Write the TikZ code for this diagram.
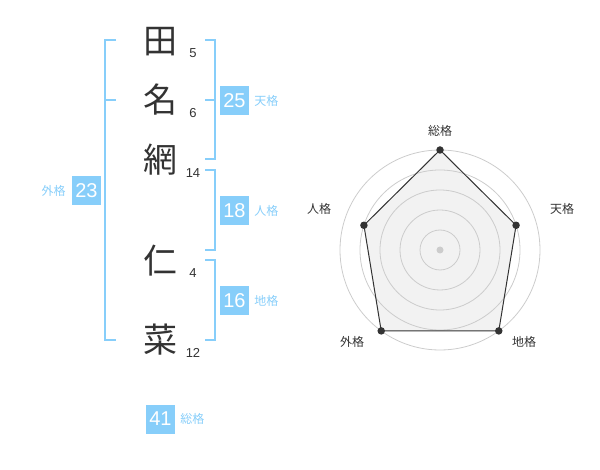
\documentclass[tikz,border=0pt]{standalone}
\usepackage{fontspec}
\setmainfont{Liberation Sans}
\newfontfamily\jpfont{Noto Sans CJK JP}
\usetikzlibrary{positioning}
\definecolor{kakublue}{HTML}{87CEFA}
\definecolor{inkgray}{HTML}{333333}
\definecolor{ringgray}{HTML}{CCCCCC}
\definecolor{areagray}{HTML}{F2F2F2}
\tikzset{
	kanji/.style={
		font=\jpfont\fontsize{34}{34}\selectfont,
		text=inkgray,
		inner sep=0pt},
	kakusu/.style={font=\fontsize{13}{13}\selectfont, text=inkgray, inner sep=0pt},
	bracket/.style={draw=kakublue, line width=2pt},
	kakubox/.style={
		fill=kakublue,
		text=white,
		minimum size=29pt,
		inner sep=0pt,
		font=\fontsize{20}{20}\selectfont},
	kakuname/.style={text=kakublue, inner sep=0pt, font=\jpfont\fontsize{12}{12}\selectfont},
	ring/.style={draw=ringgray, line width=0.8pt},
	radarlabel/.style={text=inkgray, inner sep=0pt, font=\jpfont\fontsize{12}{12}\selectfont},
	vertex/.style={circle, fill=inkgray, inner sep=0pt, minimum size=7.5pt},
}

\begin{document}
\begin{tikzpicture}
		[x=1pt, y=-1pt, node distance=5pt]
		\useasboundingbox (0,0) rectangle (600,470);
		% name
		\node[kanji] (ta)  at (160,42)  {田};
		\node[kanji] (na)  at (160,100) {名};
		\node[kanji] (ami) at (160,160) {網};
		\node[kanji] (ni)  at (160,261) {仁};
		\node[kanji] (sai) at (160,340) {菜};
		\node[kakusu] (s-ta)  at (193,53)  {5};
		\node[kakusu] (s-na)  at (193,113) {6};
		\node[kakusu] (s-ami) at (193,173) {14};
		\node[kakusu] (s-ni)  at (193,273) {4};
		\node[kakusu] (s-sai) at (193,353) {12};
		
		% brackets
		\draw[bracket] (116,40) -- (105,40) -- (105,340) -- (116,340);
		\draw[bracket] (105,100) -- (116,100);
		\draw[bracket] (205,40) -| (215,159) -- (205,159);
		\draw[bracket] (205,100) -- (215,100);
		\draw[bracket] (205,170) -| (215,250) -- (205,250);
		\draw[bracket] (205,260) -| (215,340) -- (205,340);
		
		% kaku
		\node[kakubox] (ten)  at (234.5,100.5) {25};
		\node[kakuname, right=of ten] (ten-l) {天格};
		\node[kakubox] (jin)  at (234.5,210.5) {18};
		\node[kakuname, right=of jin] (jin-l) {人格};
		\node[kakubox] (chi)  at (234.5,300.5) {16};
		\node[kakuname, right=of chi] (chi-l) {地格};
		\node[kakubox] (gai)  at (86.5,190.5) {23};
		\node[kakuname, left=6pt of gai] (gai-l) {外格};
		\node[kakubox] (sou)  at (160.5,419) {41};
		\node[kakuname, right=of sou] (sou-l) {総格};
		
		% radar
		\begin{scope}[shift={(440,250)}, yscale=-1]
		\coordinate (r-sou) at (90:100);
		\coordinate (r-ten) at (18:80);
		\coordinate (r-chi) at (-54:100);
		\coordinate (r-gai) at (-126:100);
		\coordinate (r-jin) at (162:80);
		\fill[areagray] (r-sou) -- (r-ten) -- (r-chi) -- (r-gai) -- (r-jin) -- cycle;
		\foreach \r in {20,40,...,100}
			\draw[ring] (0,0) circle (\r);
		\fill[ringgray] (0,0) circle (3.5);
		\draw[inkgray, line width=1pt] (r-sou) -- (r-ten) -- (r-chi) -- (r-gai) -- (r-jin) -- cycle;
		\foreach \k in {sou,ten,chi,gai,jin}
			\node[vertex] at (r-\k) {};
		\end{scope}
		\node[radarlabel] (l-sou) at (440,131) {総格};
		\node[radarlabel] (l-ten) at (562,209) {天格};
		\node[radarlabel] (l-chi) at (524,342) {地格};
		\node[radarlabel] (l-gai) at (352,342) {外格};
		\node[radarlabel] (l-jin) at (319,209) {人格};
		
		\end{tikzpicture}
\end{document}
